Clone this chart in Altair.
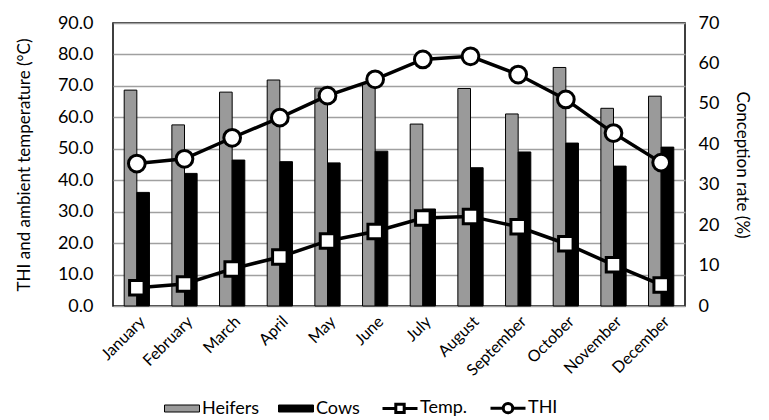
import altair as alt
import pandas as pd

months = ["January", "February", "March", "April", "May", "June", "July",
          "August", "September", "October", "November", "December"]
heifers = [53.4, 44.8, 52.9, 55.9, 53.9, 55.1, 45.0, 53.8, 47.5, 59.0, 48.9, 51.9]
cows = [28.1, 32.8, 36.1, 35.7, 35.4, 38.3, 24.0, 34.2, 38.1, 40.3, 34.6, 39.3]
temp = [5.8, 7.0, 11.8, 15.6, 20.7, 23.7, 28.0, 28.5, 25.2, 19.8, 13.1, 6.7]
thi = [45.3, 46.8, 53.5, 59.9, 66.9, 72.1, 78.4, 79.4, 73.6, 65.7, 55.0, 45.6]

series_order = ["Heifers", "Cows", "Temp.", "THI"]
left_ticks = [0, 10, 20, 30, 40, 50, 60, 70, 80, 90]
right_ticks = [0, 10, 20, 30, 40, 50, 60, 70]

bars_df = pd.DataFrame({
    "month": months + months,
    "series": ["Heifers"] * 12 + ["Cows"] * 12,
    "rate": heifers + cows,
})
lines_df = pd.DataFrame({
    "month": months + months,
    "series": ["Temp."] * 12 + ["THI"] * 12,
    "value": temp + thi,
})

FONT = "Lato"

x_enc = alt.X(
    "month:N", sort=months, title=None,
    scale=alt.Scale(paddingInner=0.47, paddingOuter=0.235),
    axis=alt.Axis(labelAngle=-45, labelFontSize=16, labelPadding=7, ticks=False,
                  domain=False, grid=False, labelFont=FONT, labelColor="black"),
)

y_left = alt.Y(
    "value:Q", scale=alt.Scale(domain=[0, 90]),
    axis=alt.Axis(orient="left", values=left_ticks, format=".1f",
                  title="THI and ambient temperature (°C)", grid=True,
                  gridColor="#a0a0a0", gridWidth=1.5, ticks=False, domain=False,
                  labelPadding=20, titlePadding=24, labelFontSize=18,
                  titleFontSize=17, labelFont=FONT, titleFont=FONT,
                  labelColor="black", titleColor="black", titleFontWeight="normal"),
)

y_right = alt.Y(
    "rate:Q", scale=alt.Scale(domain=[0, 70]),
    axis=alt.Axis(orient="right", values=right_ticks, format="d",
                  title="Conception rate (%)", grid=False, ticks=False, domain=False,
                  labelPadding=13, titlePadding=14, labelFontSize=18,
                  titleFontSize=17, labelFont=FONT, titleFont=FONT,
                  labelColor="black", titleColor="black", titleFontWeight="normal"),
)

bars = alt.Chart(bars_df).mark_bar(stroke="black", strokeWidth=1).encode(
    x=x_enc,
    xOffset=alt.XOffset("series:N", sort=["Heifers", "Cows"],
                        scale=alt.Scale(domain=["Heifers", "Cows"], paddingInner=0, paddingOuter=0)),
    y=y_right,
    color=alt.Color("series:N", scale=alt.Scale(domain=["Heifers", "Cows"],
                                                range=["#9a9a9a", "#000000"]), legend=None),
)

line = alt.Chart(lines_df).mark_line(color="black", strokeWidth=3.5).encode(
    x=x_enc, y=y_left, detail="series:N"
)

pts_temp = alt.Chart(lines_df).transform_filter(alt.datum.series == "Temp.").mark_point(
    shape="square", filled=True, fill="white", stroke="black", strokeWidth=3, size=210, opacity=1
).encode(x=x_enc, y=y_left)

pts_thi = alt.Chart(lines_df).transform_filter(alt.datum.series == "THI").mark_point(
    shape="circle", filled=True, fill="white", stroke="black", strokeWidth=3, size=280, opacity=1
).encode(x=x_enc, y=y_left)

leg = alt.Legend(title=None, orient="none", legendX=50, legendY=366, direction="horizontal",
                 columns=4, symbolSize=1225, labelFontSize=18, labelFont=FONT,
                 labelColor="black", columnPadding=16, labelOffset=1,
                 symbolStrokeColor="black", symbolOpacity=1)

shape_paths = [
    "M-1,-0.2H1V0.2H-1Z",
    "M-1,-0.2H1V0.2H-1Z",
    "M-1,0H-0.24M0.24,0H1M-0.24,-0.24H0.24V0.24H-0.24Z",
    "M-1,0H-0.27M0.27,0H1M0.27,0A0.27,0.27,0,1,1,-0.27,0A0.27,0.27,0,1,1,0.27,0Z",
]

legend_layer = alt.Chart(lines_df).transform_filter(alt.datum.value < -1000).mark_point(
    filled=True, opacity=1
).encode(
    x=x_enc, y=y_left,
    fill=alt.Fill("series:N", scale=alt.Scale(domain=series_order,
                                              range=["#9a9a9a", "#000000", "#ffffff", "#ffffff"]),
                  legend=leg),
    stroke=alt.Stroke("series:N", scale=alt.Scale(domain=series_order,
                                                  range=["#000000", "#000000", "#000000", "#000000"]),
                      legend=leg),
    shape=alt.Shape("series:N", scale=alt.Scale(domain=series_order, range=shape_paths), legend=leg),
    strokeWidth=alt.StrokeWidth("series:N", scale=alt.Scale(type="ordinal", domain=series_order,
                                                            range=[1, 1, 3, 3]), legend=leg),
)

chart = alt.layer(
    bars,
    alt.layer(line, pts_temp, pts_thi, legend_layer),
).resolve_scale(y="independent").properties(
    width=572, height=283, padding={"left": 7, "top": 6, "right": 6, "bottom": 0}
).configure_view(stroke="black", strokeWidth=1.5)

chart.save("out.html", embed_options={"renderer": "svg", "actions": False})
